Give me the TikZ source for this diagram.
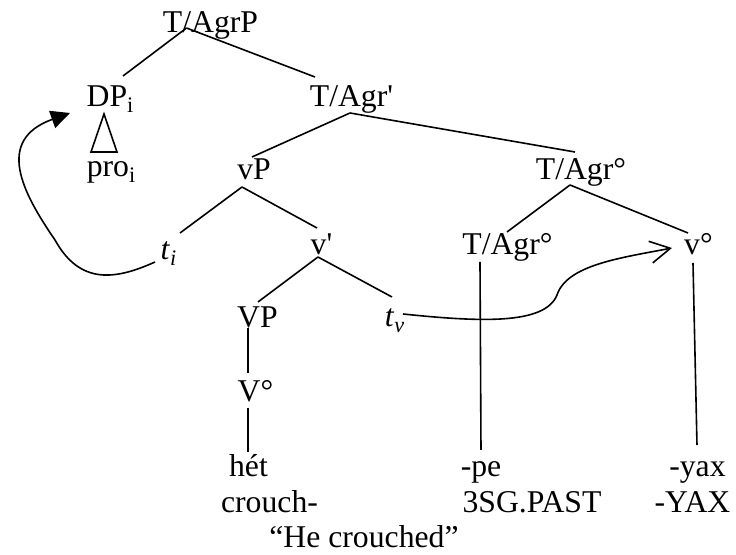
\documentclass[tikz,border=0pt]{standalone}
\usepackage{fontspec}
\setmainfont{Liberation Serif}
\usetikzlibrary{arrows.meta, calc}

\begin{document}
\begin{tikzpicture}[x=0.5pt, y=-0.5pt, line width=0.8pt,
  font=\fontsize{15.85pt}{19pt}\selectfont,
  lbl/.style={inner sep=0pt, anchor=base}]
  \useasboundingbox (0,0) rectangle (736,555);

  % --- Tree labels ---
  \node[lbl] (tagrp)  at (210.5,33)  {T/AgrP};
  \node[lbl] (dp)     at (110.5,107) {DP\textsubscript{i}};
  \node[lbl] (pro)    at (111.5,177) {pro\textsubscript{i}};
  \node[lbl] (tagrbar) at (351.5,107) {T/Agr\textquotesingle};
  \node[lbl] (vp)     at (254,180)   {vP};
  \node[lbl] (tagrhi) at (581,180)   {T/Agr°};
  \node[lbl] (ti)     at (169,260)   {\textit{t}\textsubscript{\textit{i}}};
  \node[lbl] (vbar)   at (321.5,255) {v\textquotesingle};
  \node[lbl] (tagrlo) at (507.5,255) {T/Agr°};
  \node[lbl] (vhead)  at (698.5,255) {v°};
  \node[lbl] (bigvp)  at (257.5,328) {VP};
  \node[lbl] (tv)     at (395,327)   {\textit{t}\textsubscript{\textit{v}}};
  \node[lbl] (bigv)   at (255.5,402) {V°};

  % --- Words and glosses ---
  \node[lbl] (het)    at (248.5,477) {hét};
  \node[lbl] (crouch) at (269.5,513) {crouch-};
  \node[lbl] (pe)     at (481,477)   {-pe};
  \node[lbl] (past)   at (532,513)   {3SG.PAST};
  \node[lbl] (yax)    at (697.5,477) {-yax};
  \node[lbl] (yaxgl)  at (692.5,513) {-YAX};
  \node[lbl] (gloss)  at (364,548)   {``He crouched''};

  % --- Branches ---
  \draw ($(tagrp.base)+(-24,-5)$) -- ($(dp.base)+(12.5,-31)$);
  \draw ($(tagrp.base)+(-24,-5)$) -- ($(tagrbar.base)+(-36.5,-30)$);
  \draw ($(tagrbar.base)+(-1.5,6)$) -- ($(vp.base)+(-2,-23)$);
  \draw ($(tagrbar.base)+(-1.5,6)$) -- ($(tagrhi.base)+(-6,-28)$);
  \draw ($(vp.base)+(-12,7)$) -- ($(ti.base)+(11,-27)$);
  \draw ($(vp.base)+(-12,7)$) -- ($(vbar.base)+(-4.5,-27)$);
  \draw ($(vbar.base)+(-3.5,2)$) -- ($(bigvp.base)+(0.5,-26)$);
  \draw ($(vbar.base)+(-3.5,2)$) -- ($(tv.base)+(-3,-30)$);
  \draw ($(tagrhi.base)+(-11,5)$) -- ($(tagrlo.base)+(-0.5,-23)$);
  \draw ($(tagrhi.base)+(-11,5)$) -- ($(vhead.base)+(-10.5,-22)$);
  \draw ($(bigvp.base)+(-9.5,0)$) -- ($(bigv.base)+(-7.5,-29)$);
  \draw ($(bigv.base)+(-7.5,6)$) -- ($(het.base)+(-0.5,-25)$);
  \draw ($(tagrlo.base)+(-27.5,7)$) -- ($(pe.base)+(0,-27)$);
  \draw ($(vhead.base)+(-5.5,8)$) -- ($(yax.base)+(-0.5,-32)$);

  % triangle over pro
  \draw ($(dp.base)+(-6.5,7)$) -- ($(pro.base)+(-20.5,-25)$)
    -- ($(pro.base)+(5.5,-25)$) -- cycle;

  % --- Movement arrows ---
  \draw[-{Triangle[length=9.5pt,width=9pt]}]
    ($(ti.base)+(-14,2)$) .. controls (115,280) and (80,285) .. (55,240)
    .. controls (22,192) and (-5,140) .. ($(dp.base)+(-40.5,6)$);
  \draw[-{Straight Barb[length=10pt,width=11pt]}]
    ($(tv.base)+(8,-13)$) .. controls (480,322) and (545,325) .. (557,295)
    .. controls (567,265) and (620,258) .. ($(vhead.base)+(-26.5,-7)$);
\end{tikzpicture}
\end{document}
